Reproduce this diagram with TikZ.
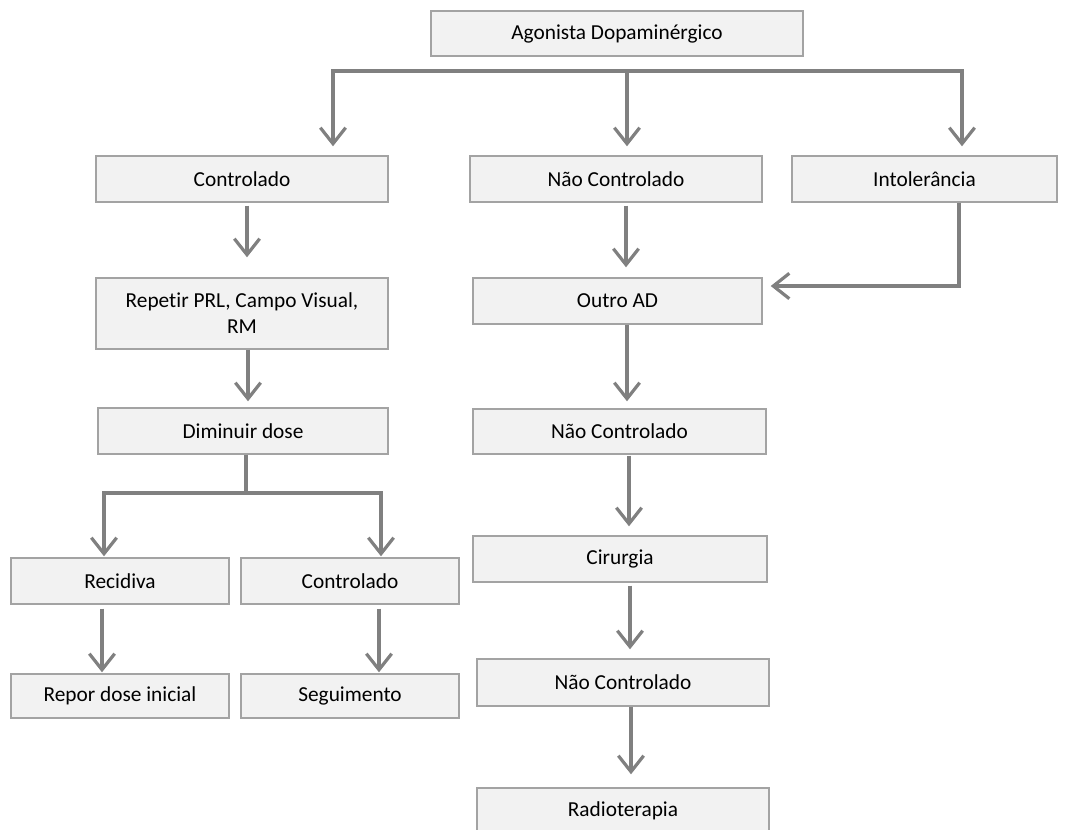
\documentclass[tikz,border=0pt]{standalone}
\usepackage{fontspec}
\setmainfont{Carlito}[RawFeature={-liga;-clig;-dlig}]
\usetikzlibrary{arrows.meta}
\definecolor{linegray}{HTML}{808080}
\definecolor{boxborder}{HTML}{A3A3A3}
\definecolor{boxfill}{HTML}{F2F2F2}
\tikzset{
  box/.style={draw=boxborder, fill=boxfill, line width=1.1pt, inner sep=0pt,
    font=\fontsize{16}{19.5}\selectfont, align=center, text=black},
  conn/.style={draw=linegray, line width=2.4pt, line join=miter},
  arr/.style={conn, -{Straight Barb[length=12pt,width=19pt,line width=2.4pt]}},
}
\begin{document}
\begin{tikzpicture}[x=0.75pt,y=-0.75pt]
\clip (0,0) rectangle (1077,829);
\fill[white] (0,0) rectangle (1077,829);
% nodes
\node[box, minimum width=279pt, minimum height=33.75pt] (agon) at (617,33.5) {Agonista Dopaminérgico};
\node[box, minimum width=219pt, minimum height=34.5pt] (ctrl1) at (242,179) {Controlado};
\node[box, minimum width=219pt, minimum height=34.5pt] (nc1) at (616,179) {Não Controlado};
\node[box, minimum width=198.75pt, minimum height=34.5pt] (intol) at (924.5,179) {Intolerância};
\node[box, minimum width=219pt, minimum height=53.25pt] (rep) at (242,313.5) {Repet\kern0pt ir PRL, Campo Visual,\\RM};
\node[box, minimum width=216.75pt, minimum height=34.5pt] (outro) at (617.5,301) {Outro AD};
\node[box, minimum width=217.5pt, minimum height=34.5pt] (dim) at (243,431) {Diminuir dose};
\node[box, minimum width=219.75pt, minimum height=33.75pt] (nc2) at (619.5,431.5) {Não Controlado};
\node[box, minimum width=163.5pt, minimum height=34.5pt] (rec) at (120,581) {Recidiva};
\node[box, minimum width=163.5pt, minimum height=34.5pt] (ctrl2) at (350,581) {Controlado};
\node[box, minimum width=220.5pt, minimum height=34.5pt] (cir) at (620,559) {Cirurgia};
\node[box, minimum width=163.5pt, minimum height=33pt] (repor) at (120,696) {Repor dose inicial};
\node[box, minimum width=163.5pt, minimum height=33pt] (seg) at (350,696) {Seguimento};
\node[box, minimum width=219pt, minimum height=35.25pt] (nc3) at (623,682.5) {Não Controlado};
\node[box, minimum width=219pt, minimum height=34.5pt] (radio) at (623,811) {Radioterapia};
% top split
\coordinate (topj) at (627,71);
\draw[arr, shorten >=6.75pt] (topj) -- (topj -| 333,0) -- (ctrl1.north -| 333,0);
\draw[arr, shorten >=6.75pt] (topj) -- (nc1.north -| topj);
\draw[arr, shorten >=6.75pt] (topj) -- (topj -| 962,0) -- (intol.north -| 962,0);
% left column
\draw[arr, shorten <=2.25pt, shorten >=15pt] (ctrl1.south -| 247,0) -- (rep.north -| 247,0);
\draw[arr, shorten >=4.5pt] (rep.south -| 248,0) -- (dim.north -| 248,0);
\coordinate (dimj) at (246,493);
\draw[conn] (dim.south -| dimj) -- (dimj);
\draw[arr, shorten >=0.75pt] (dimj) -- (dimj -| 104,0) -- (rec.north -| 104,0);
\draw[arr, shorten >=0.75pt] (dimj) -- (dimj -| 381,0) -- (ctrl2.north -| 381,0);
\draw[arr, shorten <=3pt, shorten >=0.75pt] (rec.south -| 102,0) -- (repor.north -| 102,0);
\draw[arr, shorten <=3pt, shorten >=0.75pt] (ctrl2.south -| 379,0) -- (seg.north -| 379,0);
% middle column
\draw[arr, shorten <=2.25pt, shorten >=7.5pt] (nc1.south -| 626,0) -- (outro.north -| 626,0);
\coordinate (intj) at (959,286);
\draw[arr, shorten >=6pt] (intol.south -| intj) -- (intj) -- (outro.east |- intj);
\draw[arr, shorten >=5.25pt] (outro.south -| 627,0) -- (nc2.north -| 627,0);
\draw[arr, shorten <=0.75pt, shorten >=6.75pt] (nc2.south -| 629,0) -- (cir.north -| 629,0);
\draw[arr, shorten <=2.25pt, shorten >=6.75pt] (cir.south -| 630,0) -- (nc3.north -| 630,0);
\draw[arr, shorten >=9.75pt] (nc3.south -| 631,0) -- (radio.north -| 631,0);
\end{tikzpicture}
\end{document}
